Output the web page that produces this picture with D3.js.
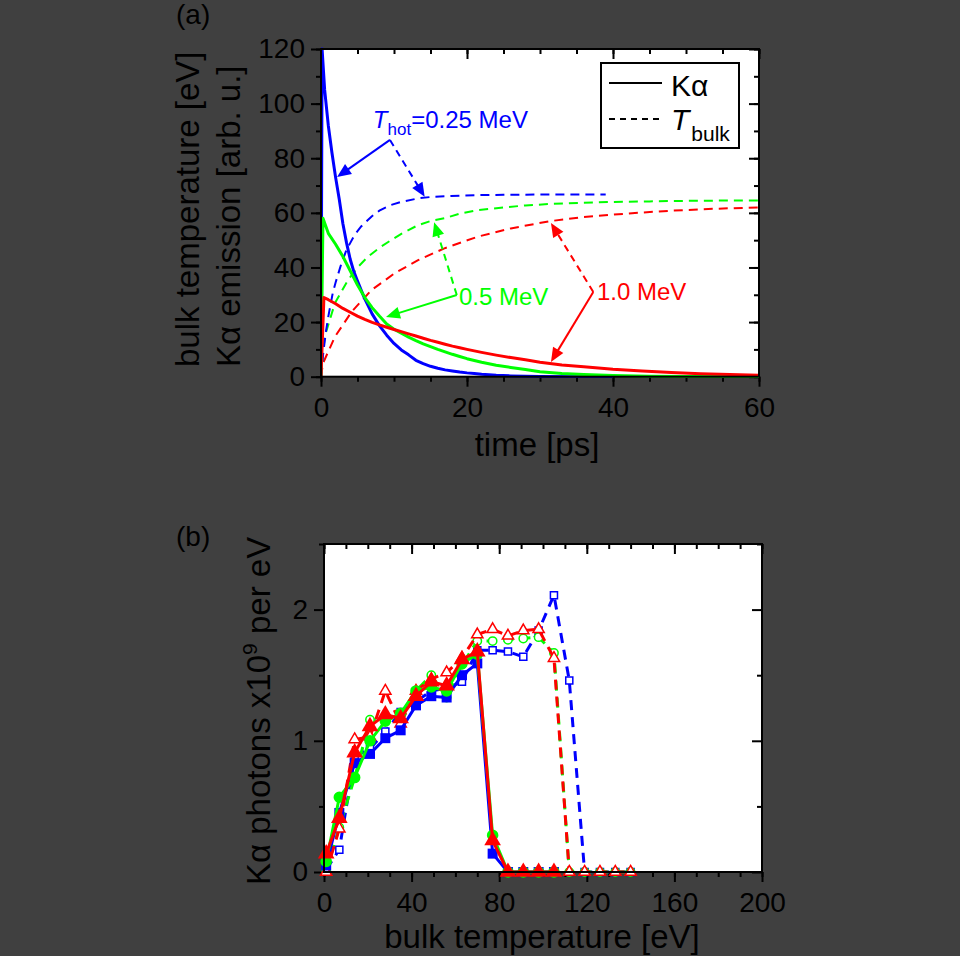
<!DOCTYPE html>
<html><head><meta charset="utf-8">
<script src="https://cdn.jsdelivr.net/npm/d3@7"></script>
<style>
body{margin:0;background:#404040;}
svg{display:block;font-family:"Liberation Sans",Arial,sans-serif;}
</style></head>
<body><svg id="c" width="960" height="956"></svg>
<script>
// ---------- Panel (a) data: time [ps] vs value ----------
const kaBlueT  = [0,0.15,0.5,1,1.5,2,2.5,3,3.5,4,4.5,5,5.5,6,7,8,9,10,11,12,13,14,15,16,17,18,19,20,21,22,24,26,30,35,40];
const kaBlueV  = [0,120,105,92,82,73,65,56,49,43,38.5,35,31.7,28.5,23,18.7,15.2,12.2,9.8,8,6,4.8,3.8,3.1,2.5,2.1,1.7,1.4,1.2,0.9,0.5,0.3,0.1,0,0];
const kaGreenT = [0,0.27,1,2,3,4,5,6,7,8,9,10,11,12,13,14,15,16,17,18,19,20,22,24,26,28,30,33,36,40,45,50,60];
const kaGreenV = [0,58,52.5,48.5,44,38.8,33.6,29,25.3,22.2,19.3,17.4,15.9,14.5,13.2,12,11,10,9.1,8.2,7.4,6.6,5.3,4.2,3.4,2.6,1.8,1.2,0.8,0.4,0.15,0.05,0];
const kaRedT   = [0,0.4,1,2,3,4,5,6,7,8,9,10,11,12,13,14,15,16,17,18,19,20,22,24,26,28,30,33,36,40,44,48,52,56,60];
const kaRedV   = [0,29,28.2,26.7,25,23.6,22.2,21,19.9,19,18.1,17.3,16.5,15.7,14.9,14.1,13.3,12.6,11.9,11.2,10.6,10,8.9,7.9,7,6.2,5.3,4.3,3.6,2.7,2.1,1.5,1.1,0.8,0.5];
const tbBlueT  = [0,0.3,0.7,1,1.6,2,2.8,3.5,4.6,5.5,6.9,8,9.6,11,13.3,15,17.8,21.5,25,30,35,39];
const tbBlueV  = [0,8.6,17,22,30.5,34.5,41.5,46.5,51.9,55,58.6,60.8,62.9,64,65.3,65.8,66.2,66.5,66.6,66.7,66.7,66.7];
const tbGreenT = [0,0.5,1.9,3.7,5,6.4,8,9.6,11,13.3,15,16.9,19,21.5,25,28,31.7,36,40,45,50,55,60];
const tbGreenV = [0,14.6,26.9,35.4,40,43.9,47.2,50,52.3,55.5,57,58,59.7,61,62,62.7,63.3,63.7,64,64.2,64.4,64.5,64.5];
const tbRedT   = [0,0.27,1.9,4.2,6.9,10.1,13.3,16.9,21.5,26,31.2,36,42.2,48,54,60];
const tbRedV   = [0,4.9,14.6,23.8,31.7,37.9,42.7,47,51.3,54.3,56.9,58.5,59.8,60.8,61.5,62];
const timeTicks = [0,20,40,60];
const valueTicks = [0,20,40,60,80,100,120];
// annotations (data units): [vertexT, vertexV, solidTipT, solidTipV, dashTipT, dashTipV]
const annBlue  = [9.45,86.7, 2.2,73.1, 14.2,65.9];
const annGreen = [18.6,29.9, 8.9,21.9, 15.5,56.6];
const annRed   = [37.3,31.0, 31.5,5.4, 31.5,56.3];

// ---------- Panel (b) data: bulk temperature [eV] vs photons ----------
const bulkTFilled = [1,7,14,21,28,35,42,49,56,63,70,77,84,91,98,105];
const blueFilled  = [0.05,0.45,0.83,0.90,1.02,1.08,1.27,1.34,1.33,1.50,1.59,0.14,0,0,0,0];
const greenFilled = [0.08,0.57,0.72,1.00,1.15,1.21,1.38,1.41,1.38,1.59,1.66,0.28,0,0,0,0];
const redFilled   = [0.14,0.41,0.91,1.11,1.20,1.17,1.34,1.45,1.42,1.62,1.68,0.24,0,0,0,0];
const bulkTOpen   = [1,7,14,21,28,35,42,49,56,63,70,77,84,91,98,105,112,119,126,133,140];
const blueOpen    = [0.02,0.17,0.88,0.94,1.07,1.22,1.30,1.38,1.40,1.45,1.69,1.69,1.68,1.64,1.84,2.11,1.46,0,0,0,0];
const greenOpen   = [0.01,0.34,0.72,1.16,1.15,1.20,1.38,1.50,1.33,1.58,1.76,1.76,1.77,1.78,1.79,1.67,0,0,0,0,0];
const redOpen     = [0.0,0.33,1.01,1.03,1.38,1.13,1.38,1.47,1.52,1.63,1.81,1.85,1.80,1.84,1.85,1.63,0,0,0,0,0];
const bulkTicks = [0,40,80,120,160,200];
const photonTicks = [0,1,2];

const BLUE="#0000ff", GREEN="#00ff00", RED="#ff0000";
const svg = d3.select("#c");
const zip = (a,b)=>a.map((x,i)=>[x,b[i]]);
const fmt = d3.format("~g");

function frameAxes(g, x, y, xMaj, xMin, yMaj, yMin){
  const [x0,x1]=x.range(), [y0,y1]=y.range();
  g.append("rect").attr("x",x0).attr("y",y1).attr("width",x1-x0).attr("height",y0-y1).attr("fill","#fff");
  const tk = (sel)=>sel.call(s=>s.select(".domain").remove()).selectAll("line").attr("stroke","#000").attr("stroke-width",2);
  // minor
  g.append("g").attr("transform",`translate(0,${y0})`).call(d3.axisBottom(x).tickValues(xMin).tickSize(5).tickFormat("")).call(tk);
  g.append("g").attr("transform",`translate(0,${y1})`).call(d3.axisTop(x).tickValues(xMin).tickSize(-5).tickFormat("")).call(tk);
  g.append("g").attr("transform",`translate(${x0},0)`).call(d3.axisLeft(y).tickValues(yMin).tickSize(5).tickFormat("")).call(tk);
  g.append("g").attr("transform",`translate(${x1},0)`).call(d3.axisRight(y).tickValues(yMin).tickSize(-5).tickFormat("")).call(tk);
  // major
  const bx = g.append("g").attr("transform",`translate(0,${y0})`).call(d3.axisBottom(x).tickValues(xMaj).tickSize(10).tickPadding(10).tickFormat(fmt));
  bx.call(tk); bx.selectAll("text").attr("font-size",28).attr("fill","#000").attr("font-family","Liberation Sans, Arial");
  g.append("g").attr("transform",`translate(0,${y1})`).call(d3.axisTop(x).tickValues(xMaj).tickSize(-10).tickFormat("")).call(tk);
  const ly = g.append("g").attr("transform",`translate(${x0},0)`).call(d3.axisLeft(y).tickValues(yMaj).tickSize(10).tickPadding(6).tickFormat(fmt));
  ly.call(tk); ly.selectAll("text").attr("font-size",28).attr("fill","#000").attr("font-family","Liberation Sans, Arial");
  g.append("g").attr("transform",`translate(${x1},0)`).call(d3.axisRight(y).tickValues(yMaj).tickSize(-10).tickFormat("")).call(tk);
}
function border(g,x,y){
  const [x0,x1]=x.range(), [y0,y1]=y.range();
  g.append("rect").attr("x",x0).attr("y",y1).attr("width",x1-x0).attr("height",y0-y1)
   .attr("fill","none").attr("stroke","#000").attr("stroke-width",2);
}

// ================= Panel (a) =================
const xa = d3.scaleLinear().domain([0,60]).range([321,759]);
const ya = d3.scaleLinear().domain([0,120]).range([376.7,49]);
const ga = svg.append("g");
frameAxes(ga, xa, ya, timeTicks, d3.range(0,61,5), valueTicks, d3.range(0,121,10));
const la = d3.line().x(d=>xa(d[0])).y(d=>ya(d[1]));
svg.append("clipPath").attr("id","ca").append("rect").attr("x",321).attr("y",47).attr("width",438).attr("height",331);
const pa = ga.append("g").attr("clip-path","url(#ca)");
[[tbRedT,tbRedV,RED],[tbGreenT,tbGreenV,GREEN],[tbBlueT,tbBlueV,BLUE]].forEach(([t,v,c])=>{
  pa.append("path").attr("d",la(zip(t,v))).attr("fill","none").attr("stroke",c).attr("stroke-width",2).attr("stroke-dasharray","9,6");
});
[[kaBlueT,kaBlueV,BLUE],[kaGreenT,kaGreenV,GREEN],[kaRedT,kaRedV,RED]].forEach(([t,v,c])=>{
  pa.append("path").attr("d",la(zip(t,v))).attr("fill","none").attr("stroke",c).attr("stroke-width",3).attr("stroke-linejoin","round");
});
function arrow(g, ax, ay, bx, by, color, dashed){
  const x1=xa(ax), y1=ya(ay), x2=xa(bx), y2=ya(by);
  const dx=x2-x1, dy=y2-y1, L=Math.hypot(dx,dy), ux=dx/L, uy=dy/L;
  const hl=14, hw=6;
  g.append("line").attr("x1",x1).attr("y1",y1).attr("x2",x2-ux*hl*0.8).attr("y2",y2-uy*hl*0.8)
   .attr("stroke",color).attr("stroke-width",2).attr("stroke-dasharray",dashed?"7,5":null);
  const bxp=x2-ux*hl, byp=y2-uy*hl;
  g.append("path").attr("d",`M${x2},${y2}L${bxp-uy*hw},${byp+ux*hw}L${bxp+uy*hw},${byp-ux*hw}Z`).attr("fill",color);
}
[[annBlue,BLUE],[annGreen,GREEN],[annRed,RED]].forEach(([a,c])=>{
  arrow(ga,a[0],a[1],a[2],a[3],c,false);
  arrow(ga,a[0],a[1],a[4],a[5],c,true);
});
border(ga,xa,ya);
// annotation text
const tHot = ga.append("text").attr("x",xa(7.1)).attr("y",ya(91)).attr("fill",BLUE).attr("font-size",24);
tHot.append("tspan").attr("font-style","italic").text("T");
tHot.append("tspan").attr("font-size",17).attr("dy",7).text("hot");
tHot.append("tspan").attr("dy",-7).text("=0.25 MeV");
ga.append("text").attr("x",xa(18.9)).attr("y",ya(26.2)).attr("fill",GREEN).attr("font-size",24).text("0.5 MeV");
ga.append("text").attr("x",xa(37.8)).attr("y",ya(28)).attr("fill",RED).attr("font-size",24).text("1.0 MeV");
// legend
const lg = ga.append("g");
lg.append("rect").attr("x",601).attr("y",63).attr("width",138).attr("height",85).attr("fill","#fff").attr("stroke","#000").attr("stroke-width",2);
lg.append("line").attr("x1",609).attr("x2",662).attr("y1",83).attr("y2",83).attr("stroke","#000").attr("stroke-width",2);
lg.append("line").attr("x1",609).attr("x2",662).attr("y1",119).attr("y2",119).attr("stroke","#000").attr("stroke-width",2).attr("stroke-dasharray","6,5");
lg.append("text").attr("x",671).attr("y",96).attr("font-size",30).text("Kα");
const tb = lg.append("text").attr("x",671).attr("y",130).attr("font-size",30);
tb.append("tspan").attr("font-style","italic").text("T");
tb.append("tspan").attr("font-size",21).attr("dy",11).attr("dx",2).text("bulk");
// axis titles
svg.append("text").attr("x",537).attr("y",456).attr("text-anchor","middle").attr("font-size",33).text("time [ps]");
svg.append("text").attr("transform","translate(199,367) rotate(-90)").attr("font-size",33).text("bulk temperature [eV]");
svg.append("text").attr("transform","translate(240,367) rotate(-90)").attr("font-size",33).text("Kα emission [arb. u.]");
svg.append("text").attr("x",176).attr("y",24).attr("font-size",28).text("(a)");

// ================= Panel (b) =================
const xb = d3.scaleLinear().domain([0,200]).range([324,762]);
const yb = d3.scaleLinear().domain([0,2.5]).range([872,544]);
const gb = svg.append("g");
frameAxes(gb, xb, yb, bulkTicks, d3.range(0,201,10), photonTicks, [0.5,1.5,2.5]);
const lb = d3.line().x(d=>xb(d[0])).y(d=>yb(d[1]));
const sq = d3.symbol().type(d3.symbolSquare), ci = d3.symbol().type(d3.symbolCircle), tr = d3.symbol().type(d3.symbolTriangle);
function series(xs, ys, color, sym, size, filled, dashed){
  const g = gb.append("g");
  g.append("path").attr("d",lb(zip(xs,ys))).attr("fill","none").attr("stroke",color).attr("stroke-width",3)
   .attr("stroke-dasharray",dashed?"10,7":null).attr("stroke-linejoin","round");
  g.selectAll("path.m").data(zip(xs,ys)).join("path").attr("class","m")
   .attr("transform",d=>`translate(${xb(d[0])},${yb(d[1])})`)
   .attr("d",sym.size(size)())
   .attr("fill",filled?color:"#fff").attr("stroke",color).attr("stroke-width",filled?0:1.5);
}
series(bulkTOpen, blueOpen, BLUE, sq, 50, false, true);
series(bulkTOpen, greenOpen, GREEN, ci, 55, false, true);
series(bulkTOpen, redOpen, RED, tr, 55, false, true);
series(bulkTFilled, blueFilled, BLUE, sq, 100, true, false);
series(bulkTFilled, greenFilled, GREEN, ci, 105, true, false);
series(bulkTFilled, redFilled, RED, tr, 120, true, false);
border(gb,xb,yb);
svg.append("text").attr("x",542).attr("y",948).attr("text-anchor","middle").attr("font-size",33).text("bulk temperature [eV]");
const yt = svg.append("text").attr("transform","translate(270,885) rotate(-90)").attr("font-size",33);
yt.append("tspan").text("Kα photons x10");
yt.append("tspan").attr("font-size",21).attr("dy",-13).text("9");
yt.append("tspan").attr("dy",13).text(" per eV");
svg.append("text").attr("x",176).attr("y",546).attr("font-size",28).text("(b)");
</script></body></html>
